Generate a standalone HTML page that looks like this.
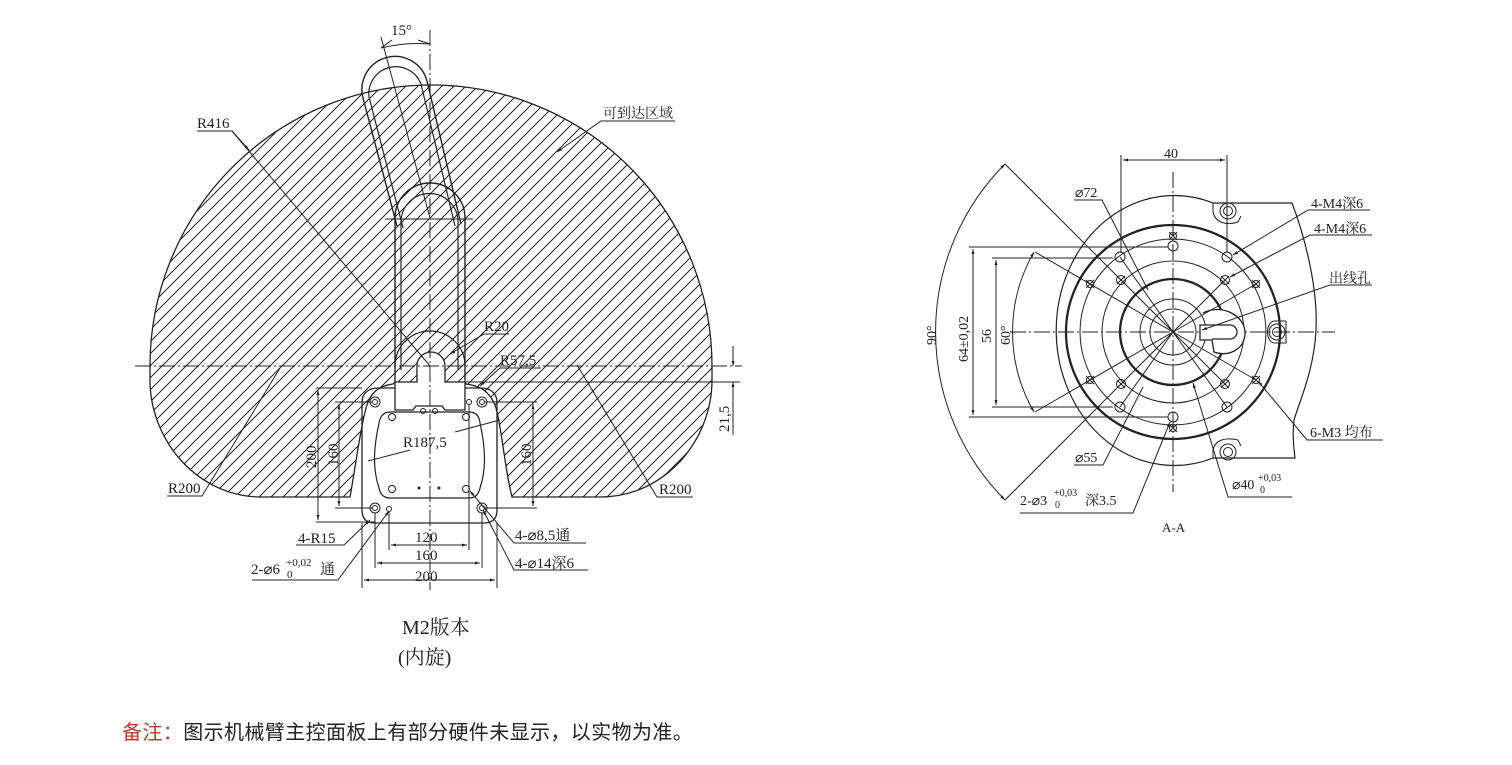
<!DOCTYPE html>
<html><head><meta charset="utf-8"><style>
html,body{margin:0;padding:0;background:#fff;}
svg{display:block;}
text{font-family:"Liberation Serif","Noto Serif CJK SC",serif;fill:#222;}
</style></head><body>
<svg width="1512" height="765" viewBox="0 0 1512 765" xmlns="http://www.w3.org/2000/svg">
<defs>
<pattern id="h" patternUnits="userSpaceOnUse" width="12" height="12">
<path d="M-3,3 L3,-3 M0,12 L12,0 M9,15 L15,9" stroke="#222" stroke-width="1"/>
</pattern>
<marker id="a" viewBox="0 0 10 10" refX="10" refY="5" markerWidth="9" markerHeight="5" orient="auto-start-reverse" markerUnits="userSpaceOnUse"><path d="M0,2 L10,5 L0,8 Z" fill="#222"/></marker>
</defs>
<g fill="none" stroke="#222" stroke-width="1">
<path fill="url(#h)" stroke-width="1.3" d="M150,366 A281,281 0 0 1 712,366 L712,380 C712,440 665,497 600,497 L512,497 C505,470 502,430 496,408 C491,393 482,386 466,384 L465,382 L445,382 L445,366 A14,14 0 0 0 417,366 L417,382 L395,382 L393,384 C378,386 370,393 366,408 C360,430 355,470 350,497 L262,497 C197,497 150,440 150,380 Z"/>
<path d="M135,366 H742" stroke-dasharray="16 3 2 3"/>
<path d="M430,30 V590" stroke-dasharray="16 3 2 3"/>
<path stroke-width="1.4" d="M363,98 L397,226 M461,224 L427,81 M363,98 A33,33 0 0 1 427,81"/>
<path stroke-width="1.2" d="M369,97 L403,228 M455,226 L421,84 M369,97 A27,27 0 0 1 421,84"/>
<path d="M381,37 L430,218"/>
<path d="M381,48 A150,150 0 0 1 430,44"/>
<path d="M392,40 L381,48 M418,40 L430,44" />
<path stroke-width="1.4" d="M395,382 V218 A35,35 0 0 1 465,218 V382"/>
<path stroke-width="1.2" d="M401,370 V222 A28,28 0 0 1 458,222 V370"/>
<path d="M385,219 H473"/>
<path stroke-width="1.2" d="M395,366 A35,35 0 0 1 465,366"/>
<path stroke-width="1.3" d="M395,382 V410 H413 L416,406 H442 L445,410 H465 V382"/>
<circle cx="423" cy="411" r="2.5"/><circle cx="435" cy="411" r="2.5"/>
<path stroke-width="1.3" d="M395,388 H378 C368,388 362,394 362,402 V510 Q362,523 375,523 H484 Q497,523 497,510 V402 C497,394 491,388 481,388 H465"/>
<path stroke-width="1.2" d="M390,412 H469 Q479,412 480,423 C486,450 486,470 480,488 Q478,498 469,498 H390 Q381,498 379,488 C373,470 373,450 379,423 Q381,412 390,412 Z"/>
<circle cx="392" cy="417" r="3.5"/><circle cx="466" cy="417" r="3.5"/><circle cx="392" cy="489" r="3.5"/><circle cx="466" cy="489" r="3.5"/>
<circle cx="375" cy="402" r="5"/><circle cx="375" cy="402" r="2.5"/>
<circle cx="482" cy="402" r="5"/><circle cx="482" cy="402" r="2.5"/>
<circle cx="375" cy="508" r="5"/><circle cx="375" cy="508" r="2.5"/>
<circle cx="482" cy="508" r="5"/><circle cx="482" cy="508" r="2.5"/>
<circle cx="469" cy="402" r="2.5"/><circle cx="389" cy="509" r="2.5"/>
<circle cx="419" cy="488" r="1" fill="#222"/><circle cx="439" cy="488" r="1" fill="#222"/>
<path d="M316,388 H362 M316,522 H375"/>
<path d="M318,390 V520" marker-start="url(#a)" marker-end="url(#a)"/>
<path d="M335,402 H372 M335,508 H372 M485,402 H537 M485,508 H537"/>
<path d="M339,404 V506" marker-start="url(#a)" marker-end="url(#a)"/>
<path d="M533,404 V506" marker-start="url(#a)" marker-end="url(#a)"/>
<path d="M362,523 V588 M497,523 V588 M375,513 V568 M482,513 V568 M389,512 V550 M469,405 V550"/>
<path d="M391,545 H467" marker-start="url(#a)" marker-end="url(#a)"/>
<path d="M377,563 H480" marker-start="url(#a)" marker-end="url(#a)"/>
<path d="M364,580 H495" marker-start="url(#a)" marker-end="url(#a)"/>
<path d="M465,382 H740"/>
<path d="M733,346 V366" marker-end="url(#a)"/>
<path d="M733,435 V382" marker-end="url(#a)"/>
<path d="M197,131 H232 L430,366"/>
<path d="M232,131 L249,150" marker-end="url(#a)"/>
<path d="M675,121 H601 L557,152" marker-end="url(#a)"/>
<path d="M509,334 H484 L450,354" marker-end="url(#a)"/>
<path d="M541,368 H500 L480,386" marker-end="url(#a)"/>
<path d="M167,496 H202 L280,368"/>
<path d="M693,497 H657 L577,365"/>
<path d="M368,461 L410,450 M455,432 L500,420" />
<path d="M296,545 H344 L370,520" marker-end="url(#a)"/>
<path d="M252,580 H338 L389,511" marker-end="url(#a)"/>
<path d="M586,543 H514 L470,491" marker-end="url(#a)"/>
<path d="M588,570 H514 L483,510" marker-end="url(#a)"/>
</g>
<g font-size="15">
<text x="391" y="35">15°</text>
<text x="197" y="128">R416</text>
<text x="603" y="118" font-size="14">可到达区域</text>
<text x="484" y="331">R20</text>
<text x="500" y="365">R57,5</text>
<text x="403" y="447">R187,5</text>
<text x="168" y="493">R200</text>
<text x="659" y="494">R200</text>
<text x="415" y="542">120</text>
<text x="415" y="560">160</text>
<text x="415" y="581">200</text>
<text x="298" y="543">4-R15</text>
<text x="251" y="574">2-⌀6</text><text x="286" y="566" font-size="11">+0,02</text><text x="287" y="578" font-size="11">0</text><text x="320" y="574">通</text>
<text x="515" y="540">4-⌀8,5通</text>
<text x="515" y="568">4-⌀14深6</text>
<text transform="translate(316,468) rotate(-90)">200</text>
<text transform="translate(338,466) rotate(-90)">160</text>
<text transform="translate(531,466) rotate(-90)">160</text>
<text transform="translate(729,432) rotate(-90)">21,5</text>
</g>
<text x="402" y="634" font-size="20">M2版本</text>
<text x="398" y="664" font-size="20">(内旋)</text>
<text x="122" y="739" font-size="20" letter-spacing="0.4" style="font-family:'Liberation Sans','Noto Sans CJK SC',sans-serif;fill:#c0392b">备注：<tspan style="fill:#222">图示机械臂主控面板上有部分硬件未显示，以实物为准。</tspan></text>

<g fill="none" stroke="#222" stroke-width="1">
<path d="M1010,332 H1335 M1173,172 V492" stroke-dasharray="16 3 2 3"/>
<path stroke-width="1.2" d="M1213,203 H1292 C1306,240 1318,290 1316,330 C1314,370 1300,400 1294,420 C1292,435 1294,450 1295,458 H1213"/>
<path stroke-width="1.2" d="M1213,203 A118,135 0 1 0 1213,458"/>
<circle cx="1173" cy="332" r="107" stroke-width="2.3"/>
<circle cx="1173" cy="332" r="93"/>
<circle cx="1173" cy="332" r="71"/>
<circle cx="1173" cy="332" r="53" stroke-width="2.3"/>
<circle cx="1173" cy="332" r="33"/>
<circle cx="1173" cy="332" r="23"/>
<path d="M1213,203 V212 C1215,222 1225,226 1238,222 L1241,216"/>
<circle cx="1228" cy="211" r="8"/><circle cx="1228" cy="211" r="4.5"/>
<path d="M1213,458 V450 C1215,440 1225,437 1238,440 L1241,446"/>
<circle cx="1228" cy="452" r="8"/><circle cx="1228" cy="452" r="4.5"/>
<path d="M1286,321 H1275 C1265,321 1265,343 1275,343 H1286 V321"/>
<circle cx="1277" cy="332" r="8"/><circle cx="1277" cy="332" r="4.5"/>
<path fill="#fff" stroke-width="1.3" d="M1203,313 C1222,303 1246,316 1245,334 C1244,350 1228,357 1214,352 L1212,340 H1200 V325 H1230 A7,7 0 0 1 1230,339 H1212"/>
<path d="M1173,332 L1035,252 M1173,332 L1035,412 M1173,332 L1005,164 M1173,332 L1005,500 M1173,332 L1090,284 M1173,332 L1256,380 M1173,332 L1256,284 M1173,332 L1090,380 M1173,332 L1122,281 M1173,332 L1224,383 M1173,332 L1224,281 M1173,332 L1122,383 M1173,332 L1120,257 M1173,332 L1120,407 M1173,332 L1227,407"/>
<g>
<circle cx="1173" cy="236" r="3.5"/><circle cx="1173" cy="428" r="3.5"/>
<circle cx="1090" cy="284" r="3.5"/><circle cx="1256" cy="284" r="3.5"/>
<circle cx="1090" cy="380" r="3.5"/><circle cx="1256" cy="380" r="3.5"/>
<circle cx="1121" cy="280" r="4.5"/><circle cx="1225" cy="280" r="4.5"/>
<circle cx="1121" cy="384" r="4.5"/><circle cx="1225" cy="384" r="4.5"/>
<path d="M1169,232 L1177,240 M1177,232 L1169,240 M1169,424 L1177,432 M1177,424 L1169,432 M1086,280 L1094,288 M1094,280 L1086,288 M1252,280 L1260,288 M1260,280 L1252,288 M1086,376 L1094,384 M1094,376 L1086,384 M1252,376 L1260,384 M1260,376 L1252,384 M1117,276 L1125,284 M1125,276 L1117,284 M1221,276 L1229,284 M1229,276 L1221,284 M1117,380 L1125,388 M1125,380 L1117,388 M1221,380 L1229,388 M1229,380 L1221,388"/>
<circle cx="1120" cy="257" r="5"/><circle cx="1227" cy="257" r="5"/>
<circle cx="1120" cy="407" r="5"/><circle cx="1227" cy="407" r="5"/>
<circle cx="1173" cy="246" r="5"/><circle cx="1173" cy="417" r="5"/>
</g>
<path d="M1121,155 V253 M1227,155 V252"/>
<path d="M1123,160 H1225" marker-start="url(#a)" marker-end="url(#a)"/>
<path d="M969,247 H1168 M969,417 H1168 M992,258 H1113 M992,407 H1113"/>
<path d="M973,249 V415" marker-start="url(#a)" marker-end="url(#a)"/>
<path d="M996,260 V405" marker-start="url(#a)" marker-end="url(#a)"/>
<path d="M1034,252 A160,160 0 0 0 1034,412" marker-start="url(#a)" marker-end="url(#a)"/>
<path d="M1005,164 A238,238 0 0 0 1005,500" marker-start="url(#a)" marker-end="url(#a)"/>
<path d="M1074,200 H1102 L1148,290" marker-end="url(#a)"/>
<path d="M1074,465 H1103 L1143,387"/>
<path d="M1020,513 H1133 L1170,422" marker-end="url(#a)"/>
<path d="M1292,497 H1228 L1193,383" marker-end="url(#a)"/>
<path d="M1383,440 H1307 L1258,381" marker-end="url(#a)"/>
<path d="M1370,210 H1308 L1233,255" marker-end="url(#a)"/>
<path d="M1372,235 H1310 L1230,277" marker-end="url(#a)"/>
<path d="M1372,285 H1330 L1202,330" marker-end="url(#a)"/>
</g>
<g font-size="14">
<text x="1164" y="158">40</text>
<text x="1075" y="197">⌀72</text>
<text x="1075" y="462">⌀55</text>
<text x="1020" y="505">2-⌀3</text><text x="1054" y="496" font-size="10">+0,03</text><text x="1055" y="508" font-size="10">0</text><text x="1085" y="505">深3.5</text>
<text x="1232" y="489">⌀40</text><text x="1258" y="481" font-size="10">+0,03</text><text x="1260" y="493" font-size="10">0</text>
<text x="1310" y="437">6-M3 均布</text>
<text x="1311" y="208">4-M4深6</text>
<text x="1314" y="233">4-M4深6</text>
<text x="1329" y="283">出线孔</text>
<text x="1162" y="532" font-size="13">A-A</text>
<text transform="translate(936,345) rotate(-90)">90°</text>
<text transform="translate(968,362) rotate(-90)">64±0,02</text>
<text transform="translate(991,343) rotate(-90)">56</text>
<text transform="translate(1010,345) rotate(-90)">60°</text>
</g>
</svg>
</body></html>
